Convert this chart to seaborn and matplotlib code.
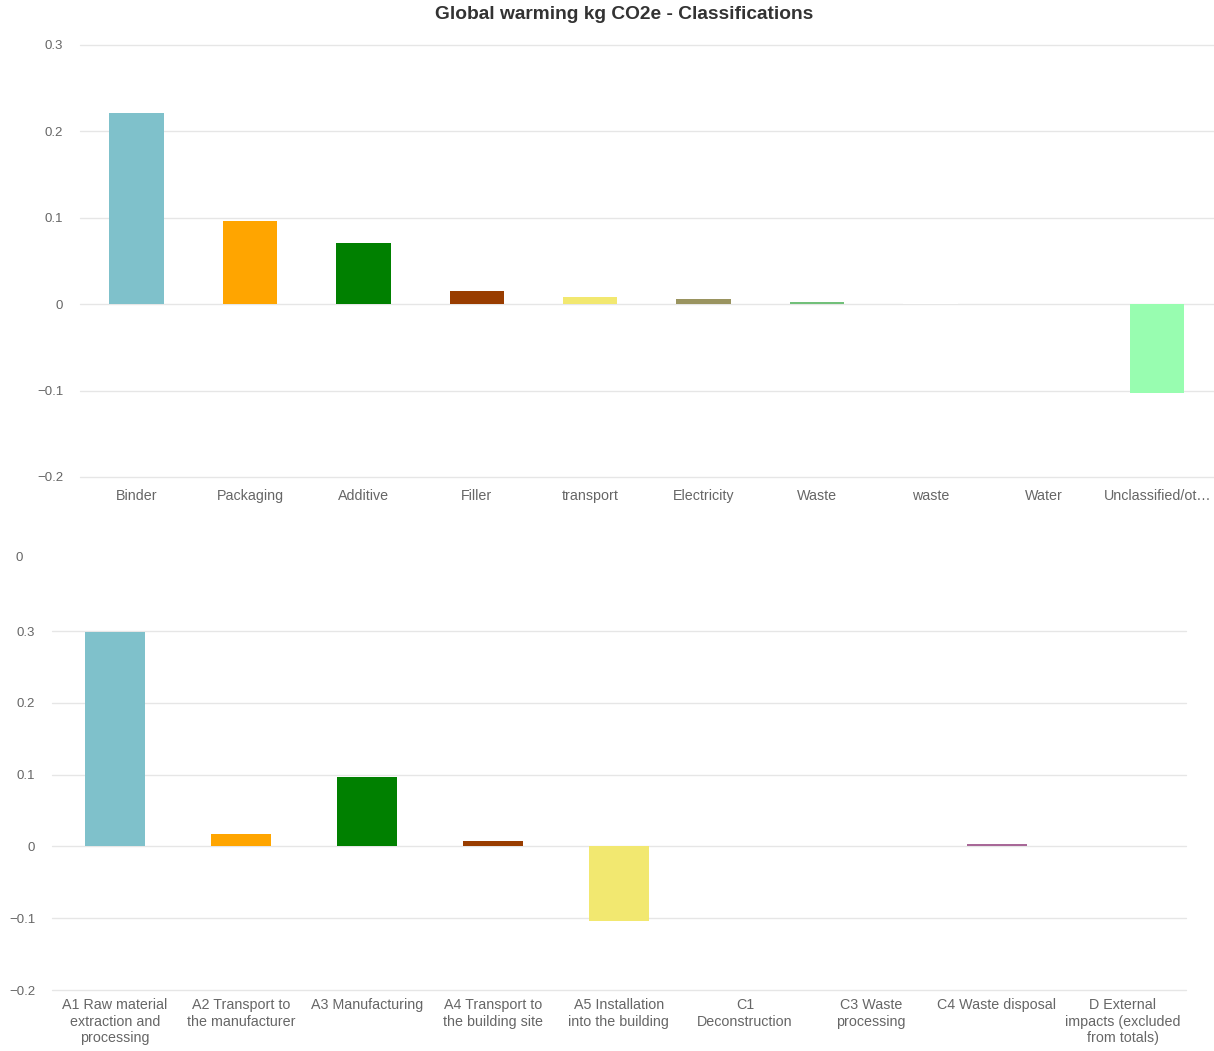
import pandas as pd
import matplotlib
matplotlib.use("Agg")
import matplotlib.pyplot as plt
import seaborn as sns

# data
top_cats = ["Binder", "Packaging", "Additive", "Filler", "transport", "Electricity",
            "Waste", "waste", "Water", "Unclassified/other"]
top_vals = [0.221, 0.096, 0.071, 0.015, 0.008, 0.006, 0.003, 0.001, 0.0, -0.103]
top_colors = ["#7fc1cb", "#ffa500", "#008000", "#993d00", "#f2e870", "#9a9460",
              "#72c07a", "#ffffff", "#ffffff", "#98fdb0"]
top_ticklabels = ["Binder", "Packaging", "Additive", "Filler", "transport", "Electricity",
                  "Waste", "waste", "Water", "Unclassified/ot\u2026"]

bot_cats = ["A1 Raw material\nextraction and\nprocessing", "A2 Transport to\nthe manufacturer",
            "A3 Manufacturing", "A4 Transport to\nthe building site",
            "A5 Installation\ninto the building", "C1\nDeconstruction", "C3 Waste\nprocessing",
            "C4 Waste disposal", "D External\nimpacts (excluded\nfrom totals)"]
bot_vals = [0.299, 0.017, 0.097, 0.008, -0.104, 0.0, 0.0, 0.004, 0.0]
bot_colors = ["#7fc1cb", "#ffa500", "#008000", "#993d00", "#f2e870", "#ffffff",
              "#ffffff", "#a86898", "#ffffff"]

yticks = [-0.2, -0.1, 0, 0.1, 0.2, 0.3]
ytick_labels = ["\u22120.2", "\u22120.1", "0", "0.1", "0.2", "0.3"]

sns.set_style("white")
plt.rcParams["font.family"] = ["Liberation Sans", "DejaVu Sans"]

fig = plt.figure(figsize=(12.14, 10.51), dpi=100)
ax1 = fig.add_axes([0.0659, 0.5462, 0.934, 0.411])
ax2 = fig.add_axes([0.0428, 0.058, 0.934, 0.3416])

df_top = pd.DataFrame({"cat": top_cats, "val": top_vals})
df_bot = pd.DataFrame({"cat": bot_cats, "val": bot_vals})

sns.barplot(data=df_top, x="cat", y="val", hue="cat", palette=dict(zip(top_cats, top_colors)),
            width=0.48, saturation=1, linewidth=0, legend=False, ax=ax1, zorder=3)
sns.barplot(data=df_bot, x="cat", y="val", hue="cat", palette=dict(zip(bot_cats, bot_colors)),
            width=0.48, saturation=1, linewidth=0, legend=False, ax=ax2, zorder=3)

for ax, labels, pad_x in [(ax1, top_ticklabels, 9), (ax2, None, 6)]:
    ax.set_ylim(-0.2, 0.3)
    ax.set_yticks(yticks)
    ax.set_yticklabels(ytick_labels)
    ax.set_xlim(-0.5, len(ax.get_xticks()) - 0.5)
    ax.grid(axis="y", color="#e6e6e6", linewidth=1, zorder=0)
    for gl in ax.get_ygridlines():
        gl.set_clip_on(False)
    ax.set_axisbelow(True)
    for s in ax.spines.values():
        s.set_visible(False)
    ax.set_xlabel("")
    ax.set_ylabel("")
    ax.tick_params(axis="y", length=0, pad=12, labelsize=9.5, labelcolor="#666666")
    ax.tick_params(axis="x", length=0, pad=pad_x, labelsize=10.3, labelcolor="#666666")
    if labels is not None:
        ax.set_xticks(range(len(labels)))
        ax.set_xticklabels(labels)

for lab in ax2.get_xticklabels():
    lab.set_verticalalignment("top")
    lab.set_linespacing(1.2)

fig.text(0.514, 0.986, "Global warming kg CO2e - Classifications", ha="center", va="center",
         fontsize=13.8, fontweight="bold", color="#333333")
# stray axis label left over from the source chart
fig.text(0.0125, 0.469, "0", ha="left", va="center", fontsize=9.5, color="#666666")

fig.savefig("out.png", dpi=100)
